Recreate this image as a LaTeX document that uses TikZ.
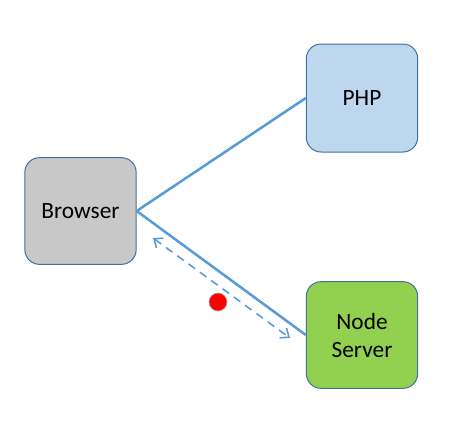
\documentclass[tikz,border=0pt]{standalone}
\usepackage{fontspec}
\setmainfont{Carlito}
\usetikzlibrary{arrows.meta}
\definecolor{boxborder}{HTML}{41719C}
\definecolor{linkblue}{HTML}{5B9BD5}
\definecolor{browserfill}{HTML}{C8C8C8}
\definecolor{phpfill}{HTML}{BDD7EE}
\definecolor{nodefill}{HTML}{92D050}
\tikzset{
  box/.style={draw=boxborder, line width=0.75pt, rounded corners=11pt,
    minimum width=83.5pt, minimum height=80pt, align=center,
    font=\fontsize{17.5}{21}\selectfont, inner sep=0pt},
  link/.style={draw=linkblue, line width=1.9pt},
  dashlink/.style={draw=linkblue, line width=1.2pt, dash pattern=on 6pt off 4.5pt,
    {Straight Barb[length=5.5pt,width=9pt]}-{Straight Barb[length=5.5pt,width=9pt]}},
}
\begin{document}
\begin{tikzpicture}[x=0.75pt,y=-0.75pt]
\useasboundingbox (0,0) rectangle (458,425);
\node[box, fill=browserfill] (browser) at (80.5,211) {Browser};
\node[box, fill=phpfill, minimum height=81pt] (php) at (362,98) {PHP};
\node[box, fill=nodefill] (node) at (362,335) {Node\\Server};
\draw[link] (browser.east) -- (php.west);
\draw[link] (browser.east) -- (node.west);
\coordinate (da) at (153,238);
\coordinate (db) at (290,338);
\draw[dashlink] (da) -- (db);
\node[circle, fill=red, draw=gray!70, line width=0.5pt, minimum size=13.5pt, inner sep=0pt] (dot) at (218,302) {};
\end{tikzpicture}
\end{document}
